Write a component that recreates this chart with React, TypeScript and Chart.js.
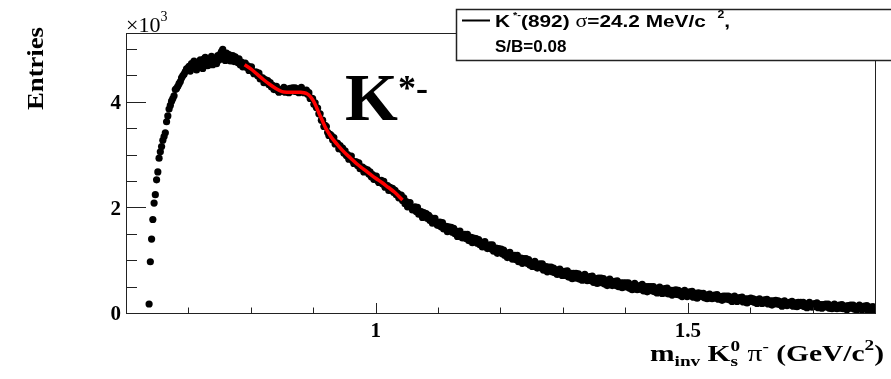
import { useEffect, useRef } from 'react';
import { Chart, registerables } from 'chart.js';
Chart.register(...registerables);

// ---- data (entries in units of 10^3, bin width 2 MeV/c^2) ----
const BIN_WIDTH = 0.002;

const riseStart = 0.637;
const riseEntries = [0.17, 0.97, 1.40, 1.77, 2.08, 2.24, 2.52, 2.67, 2.93, 3.05, 3.15, 3.27, 3.34, 3.41, 3.62, 3.73, 3.86, 3.93, 4.01, 4.06, 4.11, 4.23, 4.25, 4.29, 4.34, 4.38, 4.45, 4.49, 4.52, 4.57, 4.62, 4.63, 4.67];

const peakStart = 0.703;
const peakEntries = [4.58, 4.72, 4.66, 4.77, 4.70, 4.60, 4.74, 4.67, 4.79, 4.72, 4.63, 4.81, 4.84, 4.72, 4.68, 4.80, 4.75, 4.86, 4.70, 4.79, 4.82, 4.72, 4.87, 4.79, 4.90, 4.95, 4.99, 4.85, 4.78, 4.92, 4.83, 4.89, 4.77, 4.84, 4.87, 4.76, 4.85, 4.80, 4.74, 4.81, 4.70, 4.75, 4.66, 4.71];

const fitRegionStart = 0.791;
const fitRegionEntries = [4.73, 4.65, 4.68, 4.59, 4.65, 4.66, 4.57, 4.53, 4.56, 4.56, 4.49, 4.54, 4.43, 4.45, 4.45, 4.36, 4.42, 4.37, 4.40, 4.32, 4.36, 4.28, 4.31, 4.23, 4.28, 4.29, 4.21, 4.18, 4.22, 4.23, 4.20, 4.27, 4.18, 4.22, 4.24, 4.17, 4.25, 4.21, 4.26, 4.20, 4.26, 4.19, 4.24, 4.17, 4.24, 4.27, 4.20, 4.17, 4.21, 4.22, 4.14, 4.17, 4.06, 4.07, 4.06, 3.95, 3.98, 3.89, 3.88, 3.77, 3.77, 3.65, 3.65, 3.53, 3.55, 3.53, 3.42, 3.36, 3.38, 3.36, 3.28, 3.32, 3.20, 3.22, 3.21, 3.11, 3.17, 3.10, 3.12, 3.03, 3.07, 2.98, 3.00, 2.91, 2.96, 2.97, 2.88, 2.83, 2.86, 2.86, 2.79, 2.84, 2.73, 2.76, 2.76, 2.67, 2.73, 2.68, 2.71, 2.63, 2.67, 2.58, 2.62, 2.53, 2.58, 2.59, 2.51, 2.47, 2.50, 2.51, 2.44, 2.49, 2.38, 2.41, 2.41, 2.32, 2.38, 2.32, 2.36, 2.28, 2.32, 2.24, 2.27, 2.18, 2.23, 2.23, 2.13];

const tailStart = 1.045;
const tailEntries = [
  2.18, 2.07, 2.11,
  2.01, 2.08, 2.09, 2.00, 1.95, 1.99, 2.01, 1.92, 2.00, 1.87,
  1.90, 1.92, 1.81, 1.90, 1.84, 1.88, 1.79, 1.85, 1.75, 1.80,
  1.70, 1.78, 1.79, 1.70, 1.66, 1.70, 1.72, 1.63, 1.71, 1.59,
  1.62, 1.64, 1.54, 1.63, 1.57, 1.62, 1.53, 1.60, 1.50, 1.55,
  1.45, 1.53, 1.55, 1.46, 1.42, 1.47, 1.49, 1.41, 1.49, 1.37,
  1.41, 1.43, 1.33, 1.42, 1.36, 1.41, 1.32, 1.39, 1.29, 1.34,
  1.25, 1.33, 1.35, 1.26, 1.22, 1.27, 1.29, 1.21, 1.29, 1.17,
  1.21, 1.23, 1.13, 1.22, 1.16, 1.21, 1.12, 1.19, 1.09, 1.14,
  1.05, 1.13, 1.15, 1.06, 1.02, 1.07, 1.09, 1.01, 1.09, 0.97,
  1.02, 1.04, 0.94, 1.03, 0.97, 1.03, 0.94, 1.01, 0.91, 0.96,
  0.88, 0.96, 0.98, 0.89, 0.85, 0.91, 0.93, 0.85, 0.93, 0.81,
  0.86, 0.88, 0.78, 0.87, 0.82, 0.87, 0.78, 0.85, 0.76, 0.81,
  0.73, 0.81, 0.83, 0.75, 0.71, 0.77, 0.79, 0.71, 0.80, 0.68,
  0.73, 0.75, 0.65, 0.75, 0.69, 0.75, 0.66, 0.74, 0.64, 0.70,
  0.62, 0.70, 0.73, 0.64, 0.61, 0.66, 0.69, 0.61, 0.70, 0.58,
  0.63, 0.65, 0.56, 0.66, 0.60, 0.66, 0.57, 0.65, 0.55, 0.61,
  0.52, 0.61, 0.64, 0.55, 0.52, 0.57, 0.60, 0.52, 0.61, 0.50,
  0.54, 0.57, 0.48, 0.57, 0.52, 0.57, 0.49, 0.57, 0.47, 0.53,
  0.44, 0.53, 0.56, 0.47, 0.44, 0.50, 0.52, 0.45, 0.54, 0.42,
  0.47, 0.50, 0.40, 0.50, 0.45, 0.50, 0.42, 0.50, 0.40, 0.46,
  0.38, 0.46, 0.49, 0.41, 0.37, 0.43, 0.46, 0.38, 0.47, 0.36,
  0.40, 0.43, 0.34, 0.43, 0.38, 0.44, 0.35, 0.43, 0.34, 0.40,
  0.31, 0.40, 0.43, 0.34, 0.31, 0.37, 0.40, 0.32, 0.41, 0.30,
  0.35, 0.37, 0.28, 0.38, 0.33, 0.37, 0.31, 0.37, 0.29, 0.34,
  0.27, 0.34, 0.36, 0.29, 0.27, 0.32, 0.34, 0.28, 0.35, 0.26,
  0.30, 0.31, 0.24, 0.32, 0.28, 0.32, 0.26, 0.32, 0.25, 0.30,
  0.22, 0.29, 0.32, 0.24, 0.22, 0.27, 0.29, 0.23, 0.30, 0.21,
  0.25, 0.27, 0.19, 0.27, 0.23, 0.28, 0.22, 0.27, 0.20, 0.25,
  0.18, 0.25, 0.27, 0.20, 0.18, 0.23, 0.25, 0.19, 0.26, 0.17,
  0.21, 0.23, 0.15, 0.23, 0.19, 0.24, 0.17, 0.23, 0.16, 0.21,
  0.13, 0.20, 0.23, 0.16, 0.14, 0.18, 0.20, 0.15, 0.22, 0.13,
  0.17, 0.19, 0.12, 0.20, 0.15, 0.20, 0.14, 0.20, 0.12, 0.17,
  0.10, 0.17, 0.20, 0.13, 0.11, 0.15, 0.18, 0.12, 0.19, 0.10,
  0.14, 0.16, 0.09, 0.16, 0.12, 0.17, 0.11, 0.17, 0.09, 0.14,
  0.08, 0.15, 0.17, 0.10, 0.08, 0.13, 0.15, 0.09, 0.16, 0.08,
  0.11, 0.13, 0.06, 0.14, 0.10, 0.15, 0.09, 0.15, 0.07, 0.12,
  0.06, 0.12, 0.15, 0.08, 0.06, 0.11, 0.13, 0.07, 0.14, 0.05,
  0.09, 0.11, 0.04, 0.12, 0.08
];

// fitted K*(892) signal + background curve
const fitMass = [0.79, 0.80, 0.81, 0.82, 0.83, 0.84, 0.85, 0.86, 0.87, 0.88, 0.885, 0.89, 0.895, 0.90, 0.905, 0.91, 0.915, 0.92, 0.925, 0.93, 0.94, 0.95, 0.96, 0.97, 0.98, 0.99, 1.00, 1.01, 1.02, 1.03, 1.043];
const fitEntries = [4.70, 4.62, 4.52, 4.42, 4.33, 4.25, 4.19, 4.18, 4.18, 4.18, 4.17, 4.15, 4.10, 4.02, 3.90, 3.76, 3.63, 3.50, 3.40, 3.31, 3.17, 3.04, 2.93, 2.82, 2.73, 2.64, 2.55, 2.47, 2.38, 2.29, 2.14];

// axes
const X_MIN = 0.6;
const X_MAX = 1.8;
const Y_MIN = 0;
const Y_MAX = 5.3;
const xMajorTicks = [1, 1.5];
const xTickLabels = ['1', '1.5'];
const xMinorTicks = [0.7, 0.8, 0.9, 1.1, 1.2, 1.3, 1.4, 1.6, 1.7];
const yMajorTicks = [0, 2, 4];
const yTickLabels = ['0', '2', '4'];
const yMinorTicks = [0.5, 1, 1.5, 2.5, 3, 3.5, 4.5, 5];

const SERIF = '"Liberation Serif", "DejaVu Serif", serif';
const SANS = '"Liberation Sans", Arial, sans-serif';

type Part = { t: string; f: string; dy?: number };
type Seg = Part | { stack: Part[] };

function measureRich(ctx: CanvasRenderingContext2D, segs: Seg[]) {
  return segs.map((s: any) => {
    const parts: Part[] = s.stack || [s];
    return Math.max(...parts.map((p) => { ctx.font = p.f; return ctx.measureText(p.t).width; }));
  });
}

// draws segments starting at x0; if targetWidth given, stretches horizontally to fit it
function drawRich(ctx: CanvasRenderingContext2D, segs: Seg[], x0: number, y: number, targetWidth?: number) {
  ctx.save();
  ctx.textAlign = 'left';
  ctx.textBaseline = 'alphabetic';
  const widths = measureRich(ctx, segs);
  const total = widths.reduce((a, b) => a + b, 0);
  const sx = targetWidth ? targetWidth / total : 1;
  ctx.translate(x0, y);
  ctx.scale(sx, 1);
  let cx = 0;
  segs.forEach((s: any, i) => {
    const parts: Part[] = s.stack || [s];
    parts.forEach((p) => { ctx.font = p.f; ctx.fillText(p.t, cx, p.dy || 0); });
    cx += widths[i];
  });
  ctx.restore();
}

const decorPlugin = {
  id: 'decor',
  afterDraw(chart: any) {
    const ctx: CanvasRenderingContext2D = chart.ctx;
    const { left, right, top, bottom } = chart.chartArea;
    const xs = chart.scales.x;
    const ys = chart.scales.y;
    ctx.save();
    // frame
    ctx.strokeStyle = '#222';
    ctx.lineWidth = 1;
    ctx.strokeRect(Math.round(left) + 0.5, Math.round(top) + 0.5, Math.round(right - left), Math.round(bottom - top));
    // ticks (inside)
    ctx.beginPath();
    yMajorTicks.forEach(v => { const p = Math.round(ys.getPixelForValue(v)) + 0.5; ctx.moveTo(left, p); ctx.lineTo(left + 20, p); });
    yMinorTicks.forEach(v => { const p = Math.round(ys.getPixelForValue(v)) + 0.5; ctx.moveTo(left, p); ctx.lineTo(left + 11, p); });
    xMajorTicks.forEach(v => { const p = Math.round(xs.getPixelForValue(v)) + 0.5; ctx.moveTo(p, bottom); ctx.lineTo(p, bottom - 10); });
    xMinorTicks.forEach(v => { const p = Math.round(xs.getPixelForValue(v)) + 0.5; ctx.moveTo(p, bottom); ctx.lineTo(p, bottom - 5.5); });
    ctx.stroke();

    ctx.fillStyle = '#000';
    // tick labels
    ctx.font = `bold 21px ${SERIF}`;
    ctx.textAlign = 'right';
    ctx.textBaseline = 'middle';
    yMajorTicks.forEach((v, i) => ctx.fillText(yTickLabels[i], left - 5, ys.getPixelForValue(v) + 2));
    ctx.textAlign = 'center';
    ctx.textBaseline = 'top';
    xMajorTicks.forEach((v, i) => ctx.fillText(xTickLabels[i], xs.getPixelForValue(v), bottom + 8));

    // x10^3
    drawRich(ctx, [
      { t: '\u00d710', f: `22px ${SERIF}` },
      { t: '3', f: `14px ${SERIF}`, dy: -11 },
    ], left, top - 1);

    // y title (rotated)
    ctx.save();
    ctx.translate(43, 110);
    ctx.rotate(-Math.PI / 2);
    drawRich(ctx, [{ t: 'Entries', f: `bold 24px ${SERIF}` }], 0, 0, 83);
    ctx.restore();

    // x title
    const B = `bold 23px ${SERIF}`;
    const Bs = `bold 15px ${SERIF}`;
    drawRich(ctx, [
      { t: 'm', f: B },
      { t: 'inv', f: Bs, dy: 5 },
      { t: ' K', f: B },
      { stack: [{ t: 's', f: Bs, dy: 5 }, { t: '0', f: Bs, dy: -10 }] },
      { t: ' \u03c0', f: `23px ${SERIF}` },
      { t: '-', f: Bs, dy: -10 },
      { t: ' (GeV/c', f: B },
      { t: '2', f: Bs, dy: -11 },
      { t: ')', f: B },
    ], 650, 361, 234);

    // big K*- label
    drawRich(ctx, [
      { t: 'K', f: `bold 68px ${SERIF}` },
      { t: '*-', f: `bold 36px ${SERIF}`, dy: -20 },
    ], 345, 120);

    // legend box
    ctx.fillStyle = '#fff';
    ctx.fillRect(456, 9, 440, 52);
    ctx.strokeStyle = '#222';
    ctx.lineWidth = 1.5;
    ctx.strokeRect(456.5, 9.5, 440, 51);
    ctx.strokeStyle = '#000';
    ctx.lineWidth = 2;
    ctx.beginPath();
    ctx.moveTo(462, 20.5);
    ctx.lineTo(490, 20.5);
    ctx.stroke();
    ctx.fillStyle = '#000';
    const S17 = `bold 17px ${SANS}`;
    drawRich(ctx, [
      { t: 'K', f: S17 },
      { t: ' *-', f: `bold 9px ${SANS}`, dy: -9 },
      { t: '(892) ', f: S17 },
      { t: '\u03c3', f: `18px ${SERIF}` },
      { t: '=24.2 MeV/c  ', f: S17 },
      { t: '2', f: `bold 10px ${SANS}`, dy: -9 },
      { t: ',', f: S17 },
    ], 495, 27, 235);
    drawRich(ctx, [{ t: 'S/B=0.08', f: S17 }], 495, 52);
    ctx.restore();
  },
};

function buildPoints() {
  const segments: [number, number[]][] = [
    [riseStart, riseEntries],
    [peakStart, peakEntries],
    [fitRegionStart, fitRegionEntries],
    [tailStart, tailEntries],
  ];
  const pts: { x: number; y: number }[] = [];
  segments.forEach(([start, arr]) => arr.forEach((v, i) => pts.push({ x: start + i * BIN_WIDTH, y: v })));
  return pts;
}

export default function App() {
  const ref = useRef<HTMLCanvasElement>(null);
  useEffect(() => {
    if (!ref.current) return;
    const chart = new Chart(ref.current, {
      type: 'scatter',
      data: {
        datasets: [
          {
            label: 'fit',
            data: fitMass.map((m, i) => ({ x: m, y: fitEntries[i] })),
            showLine: true,
            pointRadius: 0,
            borderColor: '#ff0000',
            borderWidth: 3.5,
            tension: 0.3,
            order: 1,
          } as any,
          {
            label: 'data',
            data: buildPoints(),
            showLine: false,
            pointRadius: 3.6,
            pointBackgroundColor: '#000',
            pointBorderWidth: 0,
            pointBorderColor: '#000',
            order: 2,
          },
        ],
      },
      options: {
        animation: false,
        responsive: false,
        devicePixelRatio: 1,
        layout: { padding: { left: 126, right: 16, top: 33, bottom: 66 } },
        plugins: { legend: { display: false }, tooltip: { enabled: false } },
        scales: {
          x: { type: 'linear', min: X_MIN, max: X_MAX, display: false },
          y: { type: 'linear', min: Y_MIN, max: Y_MAX, display: false },
        },
      },
      plugins: [decorPlugin],
    });
    return () => chart.destroy();
  }, []);
  return (
    <div style={{ position: 'fixed', left: 0, top: 0, width: 891, height: 379, background: '#fff' }}>
      <canvas ref={ref} width={891} height={379} style={{ display: 'block' }} />
    </div>
  );
}
